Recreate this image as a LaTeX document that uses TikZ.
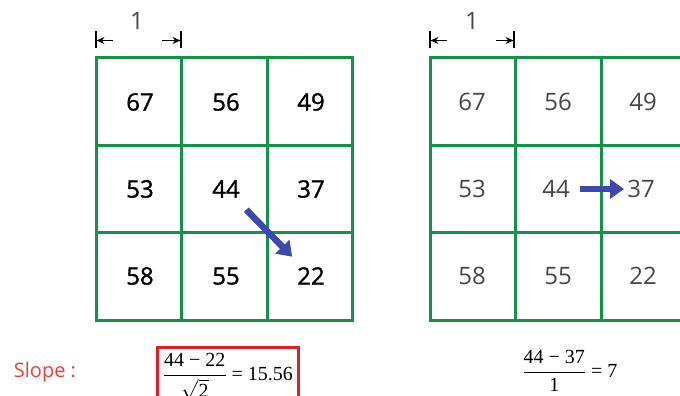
\documentclass[tikz,border=0pt]{standalone}
\usepackage{amsmath}
\usepackage{fontspec}
\setsansfont{Open Sans}
\newfontfamily\heavynum[FakeBold=1.2]{Open Sans}
\newfontfamily\formfont{Liberation Serif}
\usetikzlibrary{arrows.meta}
\definecolor{gridgreen}{RGB}{20,145,75}
\definecolor{arrowblue}{RGB}{63,72,175}
\definecolor{slopered}{RGB}{230,65,55}
\definecolor{boxred}{RGB}{222,30,40}
\definecolor{lightnum}{RGB}{70,70,70}

\begin{document}
\begin{tikzpicture}[
    x=1pt,y=-1pt,
    gridline/.style={draw=gridgreen,line width=3pt},
    cell/.style={inner sep=0pt,font=\sffamily\fontsize{24}{24}\selectfont},
    darkcell/.style={cell,text=black,font=\heavynum\fontsize{24}{24}\selectfont},
    greycell/.style={cell,text=lightnum},
    gradient/.style={draw=arrowblue,line width=6.5pt,-{Triangle[length=14pt,width=19pt]}},
    dimline/.style={line width=1.3pt,-{Stealth[length=8pt,width=7pt]}},
    formula/.style={inner sep=0pt,font=\formfont\fontsize{20}{20}\selectfont}
  ]
    \clip (0,0) rectangle (680,396);

    % left grid
    \draw[gridline] (96,58) rectangle (352,320);
    \foreach \x in {181,267} \draw[gridline] (\x,58) -- (\x,320);
    \foreach \y in {145,232} \draw[gridline] (96,\y) -- (352,\y);
    \foreach \name/\x/\y/\val in {L11/140/102/67, L12/226/102/56, L13/311/102/49,
                                  L21/140/189/53, L22/226/189/44, L23/311/189/37,
                                  L31/140/276/58, L32/226/276/55, L33/311/276/22}
      \node[darkcell] (\name) at (\x,\y) {\val};

    % right grid
    \draw[gridline] (430,58) rectangle (687,320);
    \foreach \x in {515,601} \draw[gridline] (\x,58) -- (\x,320);
    \foreach \y in {145,232} \draw[gridline] (430,\y) -- (687,\y);
    \foreach \name/\x/\y/\val in {R11/472/102/67, R12/558/102/56, R13/643/102/49,
                                  R21/472/189/53, R22/556/189/44, R23/641/189/37,
                                  R31/472/276/58, R32/558/276/55, R33/643/276/22}
      \node[greycell] (\name) at (\x,\y) {\val};

    % steepest descent arrows
    \draw[gradient,shorten <=29pt,shorten >=27pt] (L22.center) -- (L33.center);
    \draw[gradient,shorten <=24pt,shorten >=17pt] (R22.center) -- (R23.center);

    % cell size marks
    \node[cell,text=lightnum] (unitL) at (137,21) {1};
    \draw[line width=1.3pt] (96,31) -- (96,48);
    \draw[line width=1.3pt] (181,31) -- (181,48);
    \draw[dimline] (113,40.5) -- (96.5,40.5);
    \draw[dimline] (162,40.5) -- (180.5,40.5);

    \node[cell,text=lightnum] (unitR) at (472,21) {1};
    \draw[line width=1.3pt] (430,31) -- (430,48);
    \draw[line width=1.3pt] (514,31) -- (514,48);
    \draw[dimline] (447,40.5) -- (430.5,40.5);
    \draw[dimline] (496,40.5) -- (513.5,40.5);

    % slopes
    \node[inner sep=0pt,text=slopered,font=\sffamily\fontsize{20}{20}\selectfont] (slope) at (45,372) {Slope :};
    \draw[draw=boxred,line width=3pt] (157,347) rectangle (298,410);
    \node[formula] (diag) at (228,377) {$\dfrac{\text{44 − 22}}{\sqrt{\text{2}}}\text{ = 15.56}$};
    \node[formula] (straight) at (570,371) {$\dfrac{\text{44 − 37}}{\text{1}}\text{ = 7}$};
\end{tikzpicture}
\end{document}
